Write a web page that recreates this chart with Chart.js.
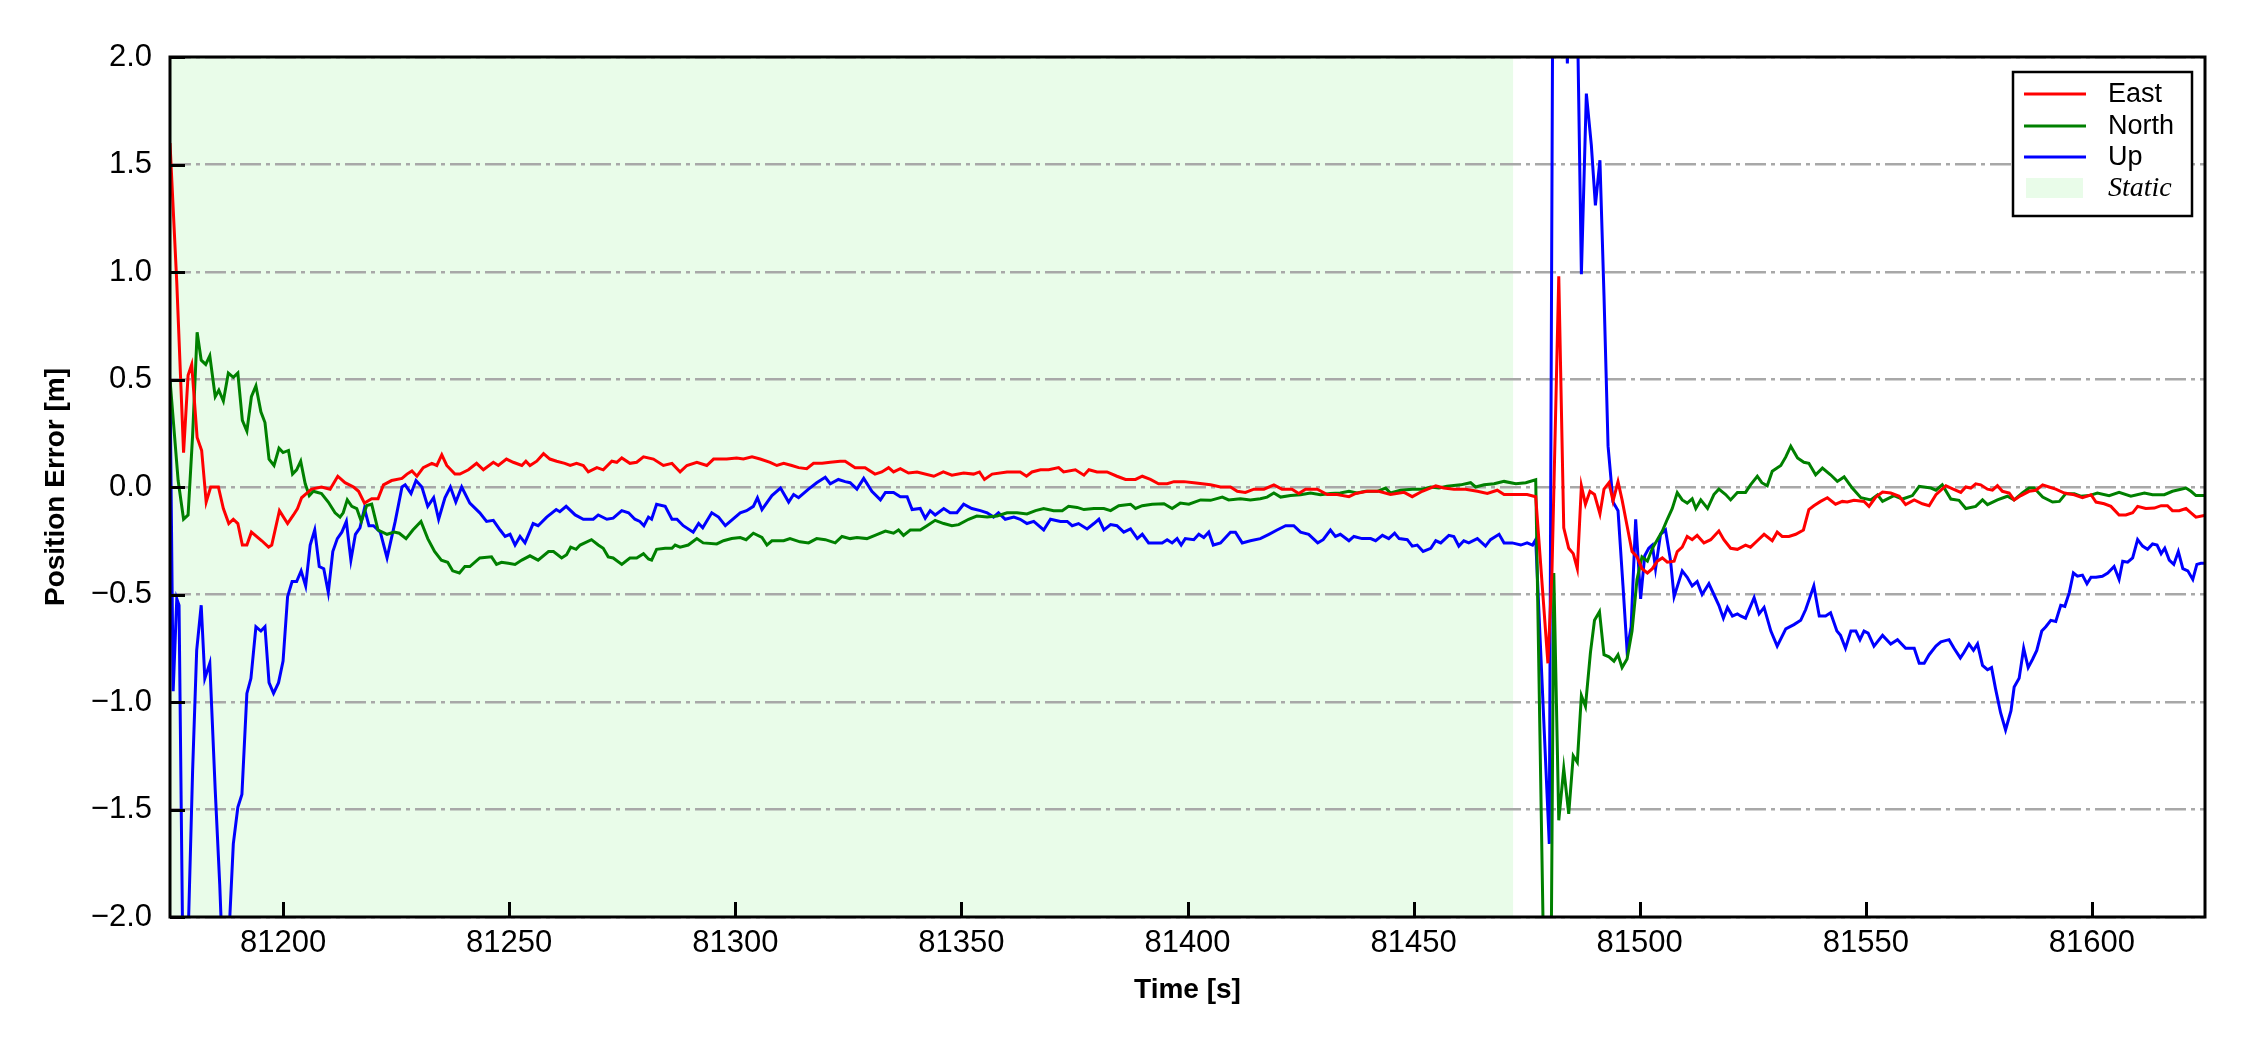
<!DOCTYPE html>
<html>
<head>
<meta charset="utf-8">
<script src="https://cdn.jsdelivr.net/npm/chart.js@4/dist/chart.umd.min.js"></script>
<style>
  html, body { margin: 0; padding: 0; background: #ffffff; }
  #c { display: block; }
</style>
</head>
<body>
<canvas id="c" width="2250" height="1050" style="width:2250px;height:1050px"></canvas>
<script>
// ---------- data (time [s], error [m]) ----------
const eastData = [
[81175,1.60],[81176.5,0.95],[81178,0.16],[81179,0.52],[81179.8,0.57],[81181,0.23],[81182,0.17],[81183,-0.07],
[81184,0.0],[81185.7,0.0],[81186.8,-0.10],[81188,-0.17],[81189,-0.15],[81190,-0.17],[81191,-0.27],[81192,-0.27],
[81193,-0.21],[81195.3,-0.25],[81196.8,-0.28],[81197.5,-0.27],[81199.2,-0.11],[81201,-0.17],[81202.3,-0.13],
[81203.2,-0.10],[81204.1,-0.05],[81205.2,-0.03],[81206.3,-0.01],[81208.5,0.0],[81210.4,-0.01],[81212.1,0.05],
[81213.7,0.02],[81215.6,0.0],[81216.7,-0.02],[81218,-0.075],[81219.6,-0.055],[81221,-0.055],[81222.2,0.01],
[81224,0.03],[81226.3,0.04],[81227.4,0.06],[81228.5,0.075],[81229.6,0.05],[81231,0.09],[81232.9,0.11],[81234,0.10],
[81235.1,0.15],[81236.2,0.10],[81238,0.06],[81239.1,0.06],[81241,0.08],[81242.8,0.11],[81244.3,0.08],[81246.5,0.115],
[81247.6,0.10],[81249.4,0.13],[81250.9,0.115],[81252.8,0.10],[81253.7,0.12],[81254.6,0.10],[81256.1,0.12],[81257.6,0.155],
[81259,0.13],[81260.5,0.12],[81262.3,0.11],[81263.5,0.10],[81264.9,0.11],[81266.4,0.10],[81267.5,0.07],[81269.4,0.09],
[81270.8,0.08],[81272.7,0.12],[81273.8,0.115],[81274.9,0.135],[81276.7,0.11],[81278.2,0.115],[81279.7,0.14],[81281.9,0.13],
[81284.1,0.10],[81286,0.11],[81287.8,0.07],[81289.3,0.10],[81291.5,0.115],[81293.7,0.10],[81295.2,0.13],[81298.1,0.13],
[81300.3,0.135],[81301.8,0.13],[81303.7,0.14],[81305.5,0.13],[81307.7,0.115],[81309.2,0.10],[81310.7,0.11],[81312.5,0.10],
[81314,0.09],[81315.8,0.085],[81317.3,0.11],[81319.2,0.11],[81321,0.115],[81323.2,0.12],[81324.3,0.12],[81326.5,0.09],
[81328.7,0.09],[81330.9,0.06],[81332.4,0.07],[81333.9,0.09],[81335,0.07],[81336.5,0.085],[81338.3,0.065],[81340.2,0.07],
[81343.9,0.05],[81346,0.07],[81347.9,0.055],[81350.5,0.065],[81352.7,0.06],[81354,0.07],[81355.1,0.035],[81356.8,0.06],
[81360.1,0.07],[81363,0.07],[81364.4,0.05],[81365.6,0.07],[81367.5,0.08],[81369.3,0.08],[81371.5,0.09],[81372.6,0.07],
[81375.2,0.08],[81377.1,0.055],[81378.2,0.08],[81380,0.07],[81382.2,0.07],[81384.4,0.05],[81386.3,0.035],[81388.5,0.035],
[81390,0.05],[81391.8,0.035],[81393.6,0.015],[81395.5,0.015],[81397,0.025],[81399.2,0.025],[81401.4,0.02],[81405.1,0.01],
[81407.3,0.0],[81409.5,0.0],[81411,-0.02],[81412.8,-0.025],[81414.7,-0.01],[81416.9,-0.01],[81419.1,0.01],[81420.9,-0.01],
[81423.1,-0.01],[81424.6,-0.03],[81426.1,-0.01],[81428.7,-0.01],[81430.9,-0.035],[81433.1,-0.035],[81435.7,-0.045],
[81437.2,-0.03],[81439.7,-0.02],[81442.3,-0.02],[81444.9,-0.035],[81447.9,-0.025],[81449.7,-0.045],[81451.9,-0.02],
[81454.9,0.005],[81456.7,-0.005],[81458.9,-0.01],[81461.5,-0.01],[81464.1,-0.02],[81466.3,-0.03],[81468.5,-0.015],
[81470,-0.035],[81472.9,-0.035],[81475.1,-0.035],[81477,-0.045],[81479.7,-0.82],[81480.6,-0.39],[81482.1,0.98],
[81483.2,-0.19],[81484.3,-0.285],[81485.3,-0.31],[81486.2,-0.38],[81487.1,0.005],[81488,-0.08],[81489,-0.02],[81490,-0.035],
[81491.2,-0.125],[81492.1,-0.01],[81493.2,0.02],[81494.1,-0.065],[81495.2,0.025],[81496.1,-0.06],[81497.2,-0.18],
[81498.3,-0.30],[81499.4,-0.325],[81500.5,-0.38],[81501.7,-0.40],[81502.8,-0.38],[81503.9,-0.345],[81505,-0.33],
[81506.1,-0.35],[81507.6,-0.345],[81508.3,-0.30],[81509.4,-0.28],[81510.5,-0.23],[81511.6,-0.245],[81512.7,-0.225],
[81514.2,-0.26],[81515.7,-0.245],[81517.5,-0.205],[81518.6,-0.245],[81520.1,-0.285],[81521.6,-0.29],[81523.4,-0.27],
[81524.5,-0.28],[81526,-0.25],[81527.5,-0.22],[81529.3,-0.25],[81530.4,-0.21],[81531.5,-0.23],[81533,-0.23],[81534.5,-0.22],
[81536.2,-0.20],[81537.4,-0.105],[81538.5,-0.087],[81540,-0.067],[81541.5,-0.05],[81543.3,-0.08],[81544.8,-0.067],
[81545.9,-0.07],[81547.4,-0.062],[81549.6,-0.067],[81550.7,-0.09],[81552.2,-0.047],[81553.7,-0.023],[81555.5,-0.028],
[81557.4,-0.043],[81558.8,-0.082],[81560.7,-0.06],[81562.5,-0.078],[81564,-0.087],[81565.5,-0.036],[81567.7,0.006],
[81569.2,-0.009],[81571,-0.025],[81572.1,0.0],[81573.2,-0.005],[81574.3,0.015],[81575.4,0.01],[81576.9,-0.01],[81578,-0.015],
[81579.1,0.006],[81580.2,-0.02],[81581.7,-0.028],[81582.8,-0.06],[81584.3,-0.04],[81586.1,-0.02],[81587.6,-0.015],
[81589.1,0.01],[81590.5,0.0],[81592,-0.01],[81593.9,-0.028],[81596.1,-0.036],[81597.9,-0.05],[81599.8,-0.036],
[81600.9,-0.07],[81602.7,-0.078],[81604.2,-0.09],[81606,-0.13],[81607.5,-0.13],[81609,-0.12],[81610.1,-0.09],
[81611.9,-0.10],[81613.8,-0.098],[81615.3,-0.087],[81616.7,-0.087],[81617.8,-0.11],[81619.3,-0.11],[81620.8,-0.10],
[81621.9,-0.12],[81623,-0.14],[81624.8,-0.133]
];

const northData = [
[81175,0.50],[81176.8,0.03],[81178,-0.15],[81179,-0.13],[81180,0.24],[81181,0.72],[81181.9,0.59],[81182.9,0.57],
[81183.8,0.61],[81185,0.42],[81185.8,0.45],[81186.8,0.40],[81187.9,0.53],[81189,0.51],[81190,0.53],[81191,0.31],
[81192,0.26],[81193,0.42],[81194,0.47],[81195.1,0.35],[81196,0.30],[81196.9,0.13],[81198,0.10],[81199.1,0.18],
[81200,0.16],[81201.2,0.17],[81202.1,0.06],[81203,0.08],[81203.9,0.12],[81204.9,0.015],[81205.8,-0.04],[81206.7,-0.02],
[81208.5,-0.03],[81210,-0.07],[81211.5,-0.12],[81212.6,-0.14],[81213.3,-0.12],[81214.2,-0.06],[81215.2,-0.09],
[81216.3,-0.10],[81217.3,-0.16],[81218.5,-0.086],[81219.6,-0.08],[81221,-0.20],[81223,-0.22],[81224.6,-0.21],
[81225.7,-0.215],[81227.2,-0.24],[81228.7,-0.20],[81230.5,-0.16],[81232,-0.24],[81233.5,-0.30],[81235,-0.34],
[81236.4,-0.35],[81237.5,-0.39],[81239,-0.40],[81240.2,-0.37],[81241.3,-0.37],[81243.5,-0.33],[81246.1,-0.325],
[81247.2,-0.36],[81248.3,-0.35],[81249.8,-0.355],[81251.3,-0.36],[81252.8,-0.34],[81254.6,-0.32],[81256.4,-0.34],
[81258.7,-0.30],[81259.8,-0.30],[81261.6,-0.33],[81262.7,-0.315],[81263.6,-0.28],[81264.8,-0.29],[81265.7,-0.27],
[81268.2,-0.245],[81269.7,-0.27],[81270.8,-0.285],[81271.9,-0.325],[81273,-0.33],[81274.9,-0.36],[81276.7,-0.33],
[81278.2,-0.33],[81279.7,-0.31],[81280.8,-0.335],[81281.5,-0.34],[81282.6,-0.29],[81284.5,-0.285],[81286,-0.285],
[81286.7,-0.27],[81287.8,-0.28],[81289.6,-0.27],[81291.5,-0.24],[81292.9,-0.26],[81295.9,-0.265],[81297.4,-0.25],
[81299.2,-0.24],[81301.1,-0.235],[81302.4,-0.245],[81304,-0.215],[81305.9,-0.235],[81307,-0.27],[81308.1,-0.25],
[81310.7,-0.25],[81312.1,-0.24],[81314.3,-0.255],[81316.2,-0.26],[81318,-0.24],[81319.9,-0.245],[81322.1,-0.26],
[81323.6,-0.23],[81325.4,-0.24],[81326.9,-0.235],[81329.1,-0.24],[81330.9,-0.225],[81333.2,-0.205],[81335,-0.215],
[81336.1,-0.20],[81337.2,-0.225],[81338.7,-0.20],[81340.9,-0.20],[81342.4,-0.18],[81344.2,-0.155],[81346.1,-0.17],
[81347.9,-0.18],[81349.4,-0.175],[81351.6,-0.15],[81353.4,-0.135],[81355.7,-0.14],[81357.9,-0.135],[81360.1,-0.12],
[81362.3,-0.12],[81364.5,-0.125],[81366.4,-0.11],[81368.2,-0.10],[81370.4,-0.11],[81372.3,-0.11],[81373.7,-0.09],
[81375.6,-0.095],[81377.1,-0.105],[81379.3,-0.10],[81381.5,-0.10],[81383,-0.11],[81384.8,-0.087],[81387.4,-0.08],
[81388.5,-0.10],[81390,-0.087],[81392.2,-0.08],[81394.8,-0.078],[81396.6,-0.10],[81398.4,-0.075],[81400.3,-0.08],
[81402.9,-0.06],[81405.1,-0.062],[81407.7,-0.047],[81409.1,-0.06],[81411.7,-0.055],[81413.9,-0.06],[81416.1,-0.055],
[81417.6,-0.047],[81419.1,-0.028],[81420.6,-0.047],[81422.8,-0.04],[81425,-0.036],[81427.2,-0.028],[81429.4,-0.036],
[81431.6,-0.03],[81433.8,-0.028],[81435.7,-0.02],[81437.5,-0.028],[81439.4,-0.02],[81442,-0.02],[81443.8,-0.005],
[81444.9,-0.028],[81447.1,-0.015],[81449.7,-0.01],[81451.9,-0.01],[81453.8,0.0],[81455.6,-0.005],[81457.4,0.003],
[81460.4,0.01],[81462.6,0.02],[81463.7,0.0],[81465.6,0.01],[81467.8,0.015],[81470,0.026],[81472.6,0.015],[81474.8,0.02],
[81477,0.034],[81479,-2.5],[81480,-3.5],[81481,-0.40],[81482.1,-1.55],[81483.2,-1.31],[81484.3,-1.52],[81485.3,-1.25],
[81486.2,-1.28],[81487.1,-0.97],[81488,-1.02],[81489.1,-0.77],[81490,-0.62],[81491.1,-0.58],[81492.1,-0.78],
[81493.2,-0.79],[81494.3,-0.81],[81495.2,-0.78],[81496.1,-0.84],[81497.2,-0.80],[81498.3,-0.67],[81499.4,-0.43],
[81500.5,-0.325],[81501.7,-0.345],[81502.8,-0.285],[81503.9,-0.245],[81505,-0.205],[81506.1,-0.15],[81507.2,-0.10],
[81508.3,-0.026],[81509.4,-0.06],[81510.5,-0.075],[81511.6,-0.055],[81512.4,-0.10],[81513.5,-0.06],[81515,-0.10],
[81516.4,-0.035],[81517.5,-0.01],[81519,-0.035],[81520.1,-0.06],[81521.6,-0.025],[81523.4,-0.025],[81524.5,0.01],
[81526,0.05],[81527,0.02],[81528.2,0.006],[81529.3,0.073],[81531.2,0.10],[81532.3,0.14],[81533.4,0.19],[81534.9,0.135],
[81536.3,0.115],[81537.4,0.11],[81538.9,0.057],[81540.4,0.088],[81542.2,0.057],[81543.7,0.026],[81545.2,0.047],
[81547,-0.005],[81548.9,-0.05],[81551.1,-0.06],[81552.6,-0.036],[81553.7,-0.067],[81556.2,-0.04],[81558.1,-0.056],
[81560.3,-0.04],[81561.8,0.003],[81564.4,-0.005],[81565.5,-0.015],[81566.9,0.01],[81568.8,-0.056],[81570.6,-0.062],
[81572.1,-0.10],[81574.3,-0.09],[81575.8,-0.06],[81576.9,-0.082],[81579.1,-0.06],[81581.3,-0.043],[81582.8,-0.06],
[81584.6,-0.028],[81586.1,-0.005],[81587.2,-0.005],[81589.1,-0.047],[81591.3,-0.07],[81592.8,-0.067],[81594.2,-0.031],
[81596.1,-0.031],[81597.5,-0.043],[81599.4,-0.04],[81601.2,-0.028],[81603.8,-0.04],[81606,-0.025],[81608.6,-0.043],
[81611.6,-0.028],[81613.4,-0.036],[81616,-0.036],[81617.8,-0.02],[81620.8,-0.005],[81621.9,-0.02],[81623,-0.04],
[81624.8,-0.04]
];

const upData = [
[81175,0.50],[81175.7,-0.95],[81176.5,-0.52],[81177,-0.55],[81178,-2.5],[81179,-2.1],[81180,-1.32],[81180.9,-0.76],
[81181.9,-0.55],[81182.7,-0.89],[81183.8,-0.82],[81185,-1.41],[81186,-1.85],[81187,-2.4],[81188,-2.1],[81189,-1.66],
[81190,-1.49],[81190.9,-1.43],[81192,-0.96],[81192.9,-0.89],[81194,-0.65],[81195.1,-0.67],[81196,-0.65],[81196.9,-0.91],
[81197.9,-0.96],[81199,-0.91],[81200,-0.81],[81201,-0.51],[81202,-0.44],[81203,-0.44],[81204,-0.39],[81205,-0.46],
[81206,-0.27],[81207,-0.20],[81208,-0.37],[81209,-0.38],[81210,-0.49],[81211,-0.30],[81212,-0.24],[81213,-0.21],
[81214,-0.16],[81215,-0.34],[81216,-0.22],[81217,-0.19],[81218,-0.10],[81219,-0.18],[81220,-0.18],[81221.5,-0.21],
[81223,-0.33],[81224.8,-0.16],[81226.3,0.0],[81227,0.01],[81228.3,-0.03],[81229.4,0.03],[81230.7,0.0],[81232,-0.09],
[81233.3,-0.05],[81234.4,-0.15],[81235.8,-0.05],[81237,0.0],[81238.2,-0.07],[81239.5,0.0],[81241.3,-0.075],[81243.5,-0.12],
[81245,-0.16],[81246.5,-0.155],[81248,-0.20],[81249.1,-0.23],[81250.2,-0.22],[81251.3,-0.27],[81252.4,-0.23],[81253.5,-0.26],
[81255.3,-0.17],[81256.4,-0.18],[81258.3,-0.14],[81260.4,-0.105],[81261.2,-0.115],[81262.6,-0.09],[81264.6,-0.13],
[81266.4,-0.15],[81268.6,-0.15],[81269.7,-0.13],[81271.6,-0.15],[81273,-0.145],[81274.9,-0.11],[81276.4,-0.12],
[81277.8,-0.15],[81278.9,-0.16],[81279.8,-0.18],[81280.8,-0.14],[81281.5,-0.15],[81282.6,-0.08],[81284.5,-0.09],
[81286,-0.15],[81287.1,-0.15],[81288.5,-0.18],[81290.7,-0.21],[81291.9,-0.17],[81292.8,-0.19],[81294.8,-0.12],
[81296.3,-0.14],[81297.8,-0.18],[81301.1,-0.12],[81302.5,-0.11],[81304,-0.09],[81304.9,-0.05],[81305.9,-0.105],
[81308.1,-0.04],[81310,-0.005],[81311.8,-0.07],[81312.9,-0.035],[81314,-0.05],[81316.2,-0.01],[81318,0.02],[81319.9,0.045],
[81321,0.015],[81322.8,0.035],[81324.3,0.025],[81325.4,0.02],[81326.9,-0.01],[81328.4,0.04],[81330.2,-0.02],[81332.1,-0.06],
[81333.2,-0.025],[81335,-0.025],[81336.5,-0.045],[81338,-0.045],[81339.1,-0.105],[81340.9,-0.10],[81342,-0.145],
[81343.1,-0.11],[81344.2,-0.13],[81346.1,-0.10],[81347.5,-0.12],[81349,-0.12],[81350.5,-0.08],[81352.3,-0.10],
[81354.2,-0.11],[81355.7,-0.12],[81357.1,-0.14],[81358.2,-0.12],[81359.7,-0.15],[81361.6,-0.14],[81363,-0.15],
[81364.5,-0.17],[81366,-0.16],[81368.2,-0.20],[81369.7,-0.15],[81371.9,-0.16],[81373.4,-0.16],[81374.5,-0.18],
[81375.9,-0.17],[81377.8,-0.195],[81379.3,-0.17],[81380.4,-0.15],[81381.5,-0.20],[81383,-0.175],[81384.4,-0.18],
[81385.9,-0.21],[81387.4,-0.195],[81388.9,-0.24],[81390,-0.22],[81391.4,-0.26],[81394.4,-0.26],[81395.5,-0.245],
[81396.6,-0.26],[81397.7,-0.24],[81398.6,-0.27],[81399.5,-0.24],[81401.4,-0.245],[81402.5,-0.22],[81403.6,-0.235],
[81404.7,-0.21],[81405.7,-0.27],[81407.3,-0.26],[81409.5,-0.21],[81410.6,-0.21],[81412.1,-0.26],[81413.9,-0.25],
[81416.1,-0.24],[81418,-0.22],[81419.8,-0.20],[81421.7,-0.18],[81423.5,-0.18],[81425,-0.21],[81426.8,-0.22],
[81428.8,-0.26],[81430,-0.245],[81431.6,-0.20],[81432.7,-0.23],[81433.8,-0.22],[81435.7,-0.25],[81436.8,-0.23],
[81438.6,-0.24],[81440.5,-0.24],[81441.6,-0.25],[81443.1,-0.225],[81444.5,-0.24],[81445.8,-0.215],[81446.8,-0.24],
[81448.6,-0.245],[81449.7,-0.275],[81450.8,-0.27],[81452.1,-0.30],[81453.8,-0.285],[81454.9,-0.25],[81456,-0.26],
[81457.8,-0.225],[81458.9,-0.23],[81460,-0.275],[81461.1,-0.25],[81462.2,-0.26],[81464.1,-0.24],[81465.9,-0.275],
[81467,-0.245],[81468.9,-0.22],[81470,-0.26],[81471.8,-0.26],[81473.7,-0.27],[81475.1,-0.26],[81476.3,-0.27],
[81477,-0.245],[81480,-1.66],[81481,3.5],[81482,3.5],[81483,2.6],[81484,1.97],[81485,2.8],[81486,2.5],[81487.1,0.99],
[81488.2,1.83],[81489.3,1.59],[81490.2,1.31],[81491.2,1.52],[81492.1,0.89],[81493,0.19],[81494.1,-0.07],[81495.2,-0.11],
[81496.3,-0.46],[81497.2,-0.76],[81498.1,-0.65],[81499.1,-0.15],[81500.2,-0.52],[81501.1,-0.32],[81502,-0.285],
[81502.8,-0.27],[81503.5,-0.38],[81504.6,-0.22],[81505.7,-0.20],[81506.8,-0.34],[81507.6,-0.51],[81509.4,-0.39],
[81510.5,-0.42],[81511.6,-0.46],[81512.7,-0.44],[81513.8,-0.50],[81515.3,-0.45],[81516.4,-0.50],[81517.5,-0.55],
[81518.5,-0.61],[81519.4,-0.56],[81520.5,-0.60],[81521.6,-0.59],[81522.3,-0.60],[81523.4,-0.61],[81525.3,-0.515],
[81526.4,-0.59],[81527.5,-0.56],[81529,-0.67],[81530.4,-0.74],[81532.3,-0.66],[81534.1,-0.64],[81535.6,-0.62],
[81536.7,-0.57],[81538.5,-0.46],[81539.7,-0.60],[81541.1,-0.60],[81542.2,-0.585],[81543.6,-0.67],[81544.4,-0.69],
[81545.5,-0.75],[81546.7,-0.67],[81547.8,-0.67],[81548.7,-0.71],[81549.6,-0.67],[81550.5,-0.68],[81551.8,-0.74],
[81553.7,-0.69],[81555.5,-0.73],[81557,-0.71],[81558.8,-0.75],[81560.7,-0.75],[81561.8,-0.82],[81562.9,-0.82],
[81564,-0.78],[81565.5,-0.74],[81566.6,-0.72],[81568.4,-0.71],[81569.5,-0.75],[81570.9,-0.795],[81571.7,-0.77],
[81572.8,-0.73],[81573.8,-0.76],[81574.7,-0.73],[81575.8,-0.83],[81576.9,-0.85],[81577.8,-0.84],[81578.7,-0.94],
[81579.8,-1.05],[81580.9,-1.13],[81582.1,-1.04],[81582.8,-0.93],[81583.9,-0.89],[81584.9,-0.75],[81585.9,-0.84],
[81586.9,-0.80],[81587.8,-0.76],[81588.9,-0.67],[81589.8,-0.65],[81590.9,-0.62],[81592,-0.625],[81593.1,-0.55],
[81594,-0.555],[81595,-0.49],[81595.9,-0.40],[81596.8,-0.415],[81597.9,-0.41],[81598.9,-0.45],[81599.8,-0.42],
[81600.9,-0.42],[81602.3,-0.415],[81603.5,-0.40],[81604.9,-0.37],[81606,-0.43],[81606.8,-0.345],[81607.9,-0.35],
[81609,-0.33],[81610.1,-0.245],[81611.2,-0.275],[81612.3,-0.29],[81613.4,-0.265],[81614.4,-0.27],[81615.3,-0.31],
[81616.1,-0.285],[81617.1,-0.34],[81618.1,-0.36],[81619.1,-0.30],[81620.1,-0.38],[81621.2,-0.39],[81622.3,-0.43],
[81623.2,-0.36],[81624.1,-0.355],[81624.8,-0.355]
];

const seriesLabels = ['East', 'North', 'Up'];
const staticLabel = 'Static';
const staticStart = 81175;
const staticEnd = 81472;
const xRange = [81175, 81625];
const yRange = [-2, 2];
const xTickValues = [81200, 81250, 81300, 81350, 81400, 81450, 81500, 81550, 81600];
const xTickLabels = ['81200', '81250', '81300', '81350', '81400', '81450', '81500', '81550', '81600'];
const yTickValues = [-2, -1.5, -1, -0.5, 0, 0.5, 1, 1.5, 2];
const yTickLabels = ['\u22122.0', '\u22121.5', '\u22121.0', '\u22120.5', '0.0', '0.5', '1.0', '1.5', '2.0'];

// ---------- styling ----------
const FONT = "'Liberation Sans', Arial, Helvetica, sans-serif";
const SERIF = "'Liberation Serif', 'Times New Roman', serif";
const COLORS = ['#ff0000', '#008000', '#0000ff'];
const STATIC_FILL = '#e9fce9';

const toXY = arr => arr.map(p => ({ x: p[0], y: p[1] }));

const staticShade = {
  id: 'staticShade',
  beforeDraw(chart) {
    const { ctx, chartArea: a, scales: { x } } = chart;
    const x0 = Math.max(a.left, x.getPixelForValue(staticStart));
    const x1 = Math.min(a.right, x.getPixelForValue(staticEnd));
    ctx.save();
    ctx.fillStyle = STATIC_FILL;
    ctx.fillRect(x0, a.top, x1 - x0, a.bottom - a.top);
    ctx.restore();
  }
};

const frameTicksLegend = {
  id: 'frameTicksLegend',
  afterDraw(chart) {
    const { ctx, chartArea: a, scales: { x, y } } = chart;
    ctx.save();
    ctx.strokeStyle = '#000';
    ctx.lineWidth = 3;
    ctx.lineCap = 'butt';
    // inward ticks
    x.ticks.forEach(t => {
      const px = Math.round(x.getPixelForValue(t.value)) + 0.5;
      ctx.beginPath(); ctx.moveTo(px, a.bottom); ctx.lineTo(px, a.bottom - 15); ctx.stroke();
    });
    y.ticks.forEach(t => {
      const py = Math.round(y.getPixelForValue(t.value)) + 0.5;
      ctx.beginPath(); ctx.moveTo(a.left, py); ctx.lineTo(a.left + 15, py); ctx.stroke();
    });
    // frame
    ctx.strokeRect(a.left, a.top, a.right - a.left, a.bottom - a.top);

    // legend
    const lx = 2013, ly = 72, lw = 179, lh = 144;
    ctx.fillStyle = '#ffffff';
    ctx.fillRect(lx, ly, lw, lh);
    ctx.lineWidth = 2.5;
    ctx.strokeRect(lx, ly, lw, lh);
    const rows = [94, 126, 157, 188];
    chart.data.datasets.forEach((ds, i) => {
      ctx.strokeStyle = ds.borderColor;
      ctx.lineWidth = 3;
      ctx.beginPath(); ctx.moveTo(2024, rows[i]); ctx.lineTo(2086, rows[i]); ctx.stroke();
      ctx.fillStyle = '#000';
      ctx.font = '27px ' + FONT;
      ctx.textBaseline = 'middle';
      ctx.textAlign = 'left';
      ctx.fillText(ds.label, 2108, rows[i] + 1);
    });
    ctx.fillStyle = STATIC_FILL;
    ctx.fillRect(2026, 178, 57, 20);
    ctx.fillStyle = '#000';
    ctx.font = 'italic 28px ' + SERIF;
    ctx.textBaseline = 'middle';
    ctx.fillText(staticLabel, 2108, rows[3] + 1);
    ctx.restore();
  }
};

const mkDataset = (label, data, color) => ({
  label, data: toXY(data), borderColor: color, backgroundColor: color,
  borderWidth: 3, pointRadius: 0, pointHoverRadius: 0, tension: 0, fill: false, clip: 0
});

new Chart(document.getElementById('c').getContext('2d'), {
  type: 'line',
  data: {
    datasets: [
      mkDataset(seriesLabels[0], eastData, COLORS[0]),
      mkDataset(seriesLabels[1], northData, COLORS[1]),
      mkDataset(seriesLabels[2], upData, COLORS[2])
    ]
  },
  options: {
    responsive: false,
    animation: false,
    devicePixelRatio: 1,
    parsing: true,
    layout: { padding: { left: 0, right: 45, top: 57, bottom: 0 } },
    plugins: { legend: { display: false }, tooltip: { enabled: false } },
    events: [],
    scales: {
      x: {
        type: 'linear',
        min: xRange[0], max: xRange[1],
        afterBuildTicks: s => { s.ticks = xTickValues.map(v => ({ value: v })); },
        afterFit: s => { s.height = 133; },
        grid: { display: false, drawTicks: false },
        border: { display: false },
        ticks: {
          color: '#000', padding: 8, maxRotation: 0, autoSkip: false,
          font: { family: FONT, size: 31 },
          callback: (v, i) => xTickLabels[i]
        },
        title: {
          display: true, text: 'Time [s]', color: '#000',
          font: { family: FONT, size: 28, weight: 'bold' },
          padding: { top: 0, bottom: 43 }
        }
      },
      y: {
        type: 'linear',
        min: yRange[0], max: yRange[1],
        afterBuildTicks: s => { s.ticks = yTickValues.map(v => ({ value: v })); },
        afterFit: s => { s.width = 170; },
        grid: { color: '#a8a8a8', lineWidth: 2.5, drawTicks: false },
        border: { display: false, dash: [21, 5, 4, 5] },
        ticks: {
          color: '#000', padding: 18, autoSkip: false,
          font: { family: FONT, size: 31 },
          callback: (v, i) => yTickLabels[i]
        },
        title: {
          display: true, text: 'Position Error [m]', color: '#000',
          font: { family: FONT, size: 28, weight: 'bold' },
          padding: { top: 39, bottom: 0 }
        }
      }
    }
  },
  plugins: [staticShade, frameTicksLegend]
});
</script>
</body>
</html>
